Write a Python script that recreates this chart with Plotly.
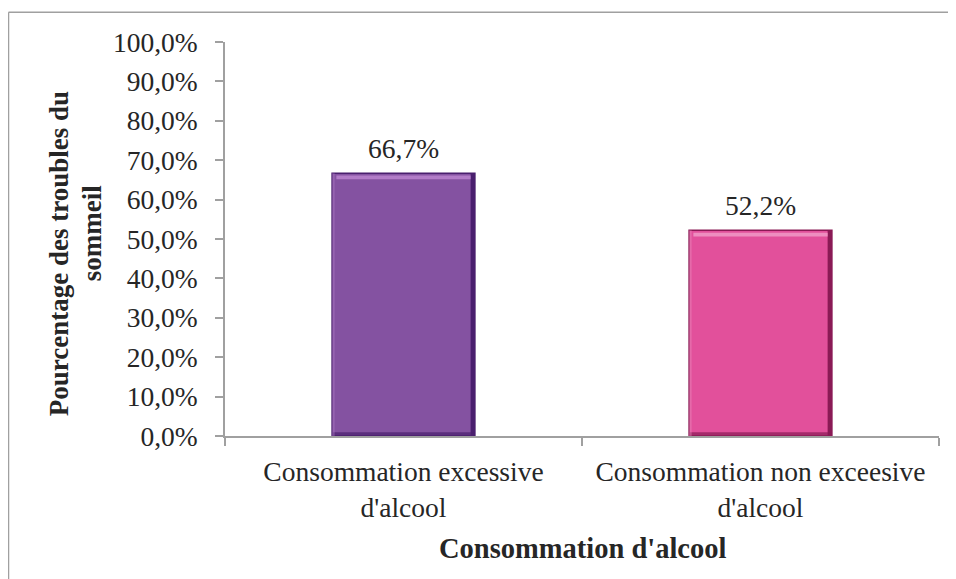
import plotly.graph_objects as go

categories = ["Consommation excessive<br>d'alcool", "Consommation non exceesive<br>d'alcool"]
values = [0.667, 0.522]
colors = ["#8452A1", "#E2509B"]
dark_colors = ["#4A1F6E", "#8A1A55"]
light_colors = ["#B27CC8", "#EE8EC0"]
y_ticks = [i / 10 for i in range(11)]

FONT = "Liberation Serif"
TXT = "#262626"
GRID = "#A0A0A0"

fig = go.Figure()
fig.add_trace(go.Bar(
    x=categories, y=values, width=0.4,
    marker=dict(color=colors, line=dict(color=dark_colors, width=1.5)),
    hoverinfo="skip",
))

shapes = []
half = 0.2
bx = 0.012
by = 0.012
for i, v in enumerate(values):
    shapes.append(dict(type="rect", xref="x", yref="y", x0=i + half - bx, x1=i + half, y0=0, y1=v,
                       fillcolor=dark_colors[i], line=dict(width=0), layer="above"))
    shapes.append(dict(type="rect", xref="x", yref="y", x0=i - half, x1=i + half, y0=0, y1=by * 0.8,
                       fillcolor=dark_colors[i], opacity=0.7, line=dict(width=0), layer="above"))
    shapes.append(dict(type="rect", xref="x", yref="y", x0=i - half + bx, x1=i + half - bx,
                       y0=v - by * 1.3, y1=v - by * 0.5,
                       fillcolor=light_colors[i], line=dict(width=0), layer="above"))
    shapes.append(dict(type="rect", xref="x", yref="y", x0=i - half, x1=i - half + bx * 0.6, y0=0, y1=v,
                       fillcolor=light_colors[i], opacity=0.4, line=dict(width=0), layer="above"))

# outer chart frame (top and left visible)
shapes.append(dict(type="line", xref="paper", yref="paper", x0=-0.3032, x1=1.2, y0=1.0754, y1=1.0754,
                   line=dict(color=GRID, width=1.5)))
shapes.append(dict(type="line", xref="paper", yref="paper", x0=-0.3032, x1=-0.3032, y0=-0.5, y1=1.0754,
                   line=dict(color=GRID, width=1.5)))

annotations = []
for i, v in enumerate(values):
    annotations.append(dict(x=i, y=v, xref="x", yref="y", text=f"{v*100:.1f}%".replace(".", ","),
                            showarrow=False, yanchor="bottom", yshift=7,
                            font=dict(family=FONT, size=27.5, color=TXT)))
annotations.append(dict(x=-0.2320, y=0.462, xref="paper", yref="paper",
                        text="<b>Pourcentage des troubles du</b>", textangle=-90,
                        showarrow=False, xanchor="center", yanchor="middle",
                        font=dict(family=FONT, size=27, color=TXT)))
annotations.append(dict(x=-0.1860, y=0.515, xref="paper", yref="paper",
                        text="<b>sommeil</b>", textangle=-90,
                        showarrow=False, xanchor="center", yanchor="middle",
                        font=dict(family=FONT, size=27, color=TXT)))
annotations.append(dict(x=0.5, y=-0.285, xref="paper", yref="paper",
                        text="<b>Consommation d'alcool</b>",
                        showarrow=False, xanchor="center", yanchor="middle",
                        font=dict(family=FONT, size=28.5, color=TXT)))

fig.update_layout(
    width=948, height=571,
    margin=dict(l=217, r=17, t=34, b=143),
    paper_bgcolor="white", plot_bgcolor="white",
    separators=", ",
    showlegend=False,
    bargap=0.6,
    shapes=shapes,
    annotations=annotations,
    font=dict(family=FONT, size=27, color=TXT),
)
fig.update_xaxes(
    type="category", showline=True, linecolor=GRID, linewidth=1.5,
    ticks="outside", ticklen=8, tickcolor=GRID, tickwidth=1.5, tickson="boundaries",
    showgrid=False, zeroline=False,
    tickfont=dict(family=FONT, size=27.5, color=TXT),
    ticklabelstandoff=10,
    range=[-0.5, 1.5],
)
fig.update_yaxes(
    range=[0, 1], tickvals=y_ticks, tickformat=".1%",
    showline=True, linecolor=GRID, linewidth=1.5,
    ticks="outside", ticklen=8, tickcolor=GRID, tickwidth=1.5,
    showgrid=False, zeroline=False,
    tickfont=dict(family=FONT, size=27.5, color=TXT),
    ticklabelstandoff=12,
)

fig.write_html("out.html")
